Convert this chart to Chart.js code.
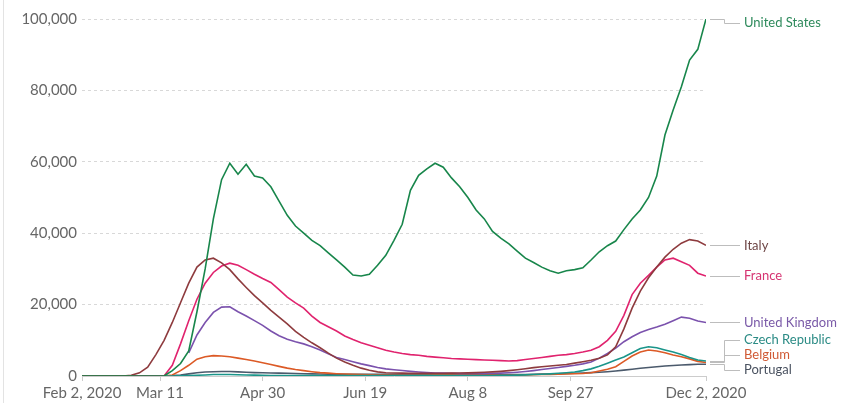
<!DOCTYPE html>
<html><head><meta charset="utf-8">
<script src="https://cdn.jsdelivr.net/npm/chart.js@4"></script>
<style>
html,body{margin:0;padding:0;background:#fff;}
#wrap{position:relative;width:849px;height:403px;}
#edge{position:absolute;left:3px;top:0;width:1px;height:403px;background:#e3e3e3;}
</style>
</head><body>
<div id="wrap"><div id="edge"></div><canvas id="c"></canvas></div>
<script>
// Days since Feb 2, 2020
const days = [
  0,4,8,12,16,20,24,28,32,36,
  40,44,48,52,56,60,64,68,72,76,
  80,84,88,92,96,100,104,108,112,116,
  120,124,128,132,136,140,144,148,152,156,
  160,164,168,172,176,180,184,188,192,196,
  200,204,208,212,216,220,224,228,232,236,
  240,244,248,252,256,260,264,268,272,276,
  280,284,288,292,296,300,304
];
const xTickDays = [0,38,88,138,188,238,304];
const xTickLabels = ['Feb 2, 2020','Mar 11','Apr 30','Jun 19','Aug 8','Sep 27','Dec 2, 2020'];
const yTicks = [0,20000,40000,60000,80000,100000];

const seriesNames = ['United States','Italy','France','United Kingdom','Czech Republic','Belgium','Portugal'];

const unitedStates = [
  0,0,0,0,0,0,0,0,0,0,
  0,1500,3500,7000,18000,30000,44000,55000,59600,56500,
  59300,56000,55500,53000,49000,45000,42000,40000,38000,36500,
  34500,32500,30500,28300,28000,28500,31000,33800,38000,42500,
  52000,56200,58000,59600,58500,55500,53000,50000,46500,44000,
  40500,38600,37000,35000,33000,31800,30500,29500,28800,29500,
  29800,30300,32500,34800,36500,37800,41000,44000,46500,50000,
  56000,67500,74500,81000,88500,91500,100000
];
const italy = [
  0,0,0,0,0,0,200,900,2500,6000,
  10000,15000,20500,26000,30500,32500,33000,31700,29800,27200,
  24800,22500,20500,18400,16500,14600,12500,10800,9300,7900,
  6400,5000,3900,3000,2200,1600,1150,900,850,800,
  780,770,760,760,780,800,830,880,950,1050,
  1150,1300,1500,1750,2050,2350,2600,2800,3000,3200,
  3600,4000,4400,5000,5900,8200,13200,19000,23800,27500,
  30500,33300,35500,37200,38200,37800,36600
];
const france = [
  0,0,0,0,0,0,0,0,0,0,
  0,3000,9000,15500,21500,26000,29000,30800,31600,31000,
  29800,28500,27300,26200,24200,22100,20500,19000,16800,15000,
  13800,12600,11200,10200,9300,8600,7900,7200,6700,6300,
  6000,5800,5500,5300,5100,4900,4800,4700,4600,4500,
  4400,4300,4200,4300,4600,4900,5200,5500,5800,6000,
  6300,6700,7200,8200,10000,12500,17000,22800,26000,28200,
  30500,32500,33000,32000,31000,28800,28000
];
const unitedKingdom = [
  null,null,null,null,null,null,null,null,null,null,
  null,null,null,6500,11500,15000,17800,19300,19400,18000,
  16800,15500,14200,12600,11300,10300,9600,9000,8200,7300,
  6200,5200,4600,4000,3400,2900,2400,2000,1750,1550,
  1300,1100,950,850,800,750,700,700,700,720,
  750,800,900,1050,1250,1500,1800,2100,2400,2700,
  3000,3400,3900,5000,6300,7800,9600,11000,12200,13000,
  13700,14500,15500,16500,16200,15400,15000
];
const czechRepublic = [
  0,0,0,0,0,0,0,0,0,0,
  0,0,50,100,200,300,400,400,400,350,
  300,250,200,150,120,100,100,100,100,100,
  100,100,100,100,100,100,100,100,110,110,
  110,110,120,120,120,120,130,130,140,150,
  150,170,200,250,320,400,500,600,750,900,
  1100,1500,2000,2700,3600,4500,5300,6500,7700,8200,
  7900,7300,6700,6000,5200,4500,4200
];
const belgium = [
  0,0,0,0,0,0,0,0,0,0,
  0,300,1500,3000,4700,5400,5700,5600,5400,5000,
  4600,4200,3700,3200,2700,2200,1800,1500,1200,950,
  800,650,550,450,400,320,280,250,220,200,
  200,210,230,250,270,290,300,300,290,270,
  250,230,230,250,300,350,400,450,500,600,
  650,700,900,1400,1900,2600,4100,5600,6700,7300,
  7000,6500,5900,5400,4800,4100,3800
];
const portugal = [
  0,0,0,0,0,0,0,0,0,0,
  0,100,300,600,900,1100,1200,1250,1250,1150,
  1050,950,900,850,800,750,700,650,600,550,
  500,480,470,460,450,450,470,490,480,470,
  450,420,400,380,370,350,340,330,330,340,
  350,360,380,410,440,480,520,580,650,700,
  770,850,950,1050,1200,1400,1650,1900,2150,2400,
  2600,2800,2950,3100,3200,3300,3300
];

const seriesValues = [unitedStates, italy, france, unitedKingdom, czechRepublic, belgium, portugal];
const lineColors = ['#18864b','#8e3b3e','#e0236e','#7b52ad','#1a958a','#dc5a26','#4b5a6c'];
const labelColors = ['#2e8a5c','#6e4646','#d63472','#7a5aa8','#2b8b85','#d05a35','#4a5260'];

const labelPlugin = {
  id: 'endLabels',
  afterDatasetsDraw(chart) {
    const ctx = chart.ctx, area = chart.chartArea, ys = chart.scales.y;
    const items = chart.data.datasets.map((d, i) => {
      const last = d.data[d.data.length - 1].y;
      const yd = ys.getPixelForValue(last);
      return { i, yd, y: yd };
    });
    items.sort((a, b) => a.yd - b.yd);
    const gap = 15, minY = area.top + 4, maxY = area.bottom - 6;
    function place(g) {
      const n = g.items.length;
      let start = g.center - (n - 1) * gap / 2;
      start = Math.max(minY, Math.min(start, maxY - (n - 1) * gap));
      g.start = start;
    }
    let groups = items.map(it => ({ items: [it], center: it.yd }));
    groups.forEach(place);
    let changed = true;
    while (changed) {
      changed = false;
      for (let k = 0; k < groups.length - 1; k++) {
        const a = groups[k], b = groups[k + 1];
        const aEnd = a.start + (a.items.length - 1) * gap;
        if (b.start - aEnd < gap) {
          const merged = { items: a.items.concat(b.items) };
          merged.center = merged.items.reduce((s, it) => s + it.yd, 0) / merged.items.length;
          place(merged);
          groups.splice(k, 2, merged);
          changed = true;
          break;
        }
      }
    }
    groups.forEach(g => g.items.forEach((it, j) => { it.y = g.start + j * gap; }));

    ctx.save();
    const x0 = area.right + 4, xe = 724, x1 = 740;
    ctx.strokeStyle = '#bdbdbd';
    ctx.lineWidth = 1;
    items.forEach(it => {
      ctx.beginPath();
      if (Math.abs(it.y - it.yd) < 1) {
        ctx.moveTo(x0, Math.round(it.y) + 0.5);
        ctx.lineTo(x1, Math.round(it.y) + 0.5);
      } else {
        ctx.moveTo(x0, Math.round(it.yd) + 0.5);
        ctx.lineTo(xe + 0.5, Math.round(it.yd) + 0.5);
        ctx.lineTo(xe + 0.5, Math.round(it.y) + 0.5);
        ctx.lineTo(x1, Math.round(it.y) + 0.5);
      }
      ctx.stroke();
      ctx.font = '13px Lato';
      ctx.fillStyle = labelColors[it.i];
      ctx.textBaseline = 'middle';
      ctx.textAlign = 'left';
      ctx.fillText(seriesNames[it.i], 744, it.y);
    });
    ctx.restore();
  }
};

Chart.defaults.font.family = 'Lato';

new Chart(document.getElementById('c'), {
  type: 'line',
  data: {
    datasets: seriesValues.map((vals, i) => ({
      label: seriesNames[i],
      data: vals.map((v, k) => ({ x: days[k], y: v })),
      borderColor: lineColors[i],
      backgroundColor: lineColors[i],
      borderWidth: 1.6,
      pointRadius: 0,
      tension: 0,
      fill: false,
      spanGaps: false
    }))
  },
  options: {
    responsive: true,
    maintainAspectRatio: false,
    animation: false,
    layout: { padding: { top: 19, right: 143, left: 0, bottom: 0 } },
    plugins: { legend: { display: false }, tooltip: { enabled: false } },
    scales: {
      x: {
        type: 'linear',
        min: 0, max: 304,
        afterBuildTicks: s => { s.ticks = xTickDays.map(v => ({ value: v })); },
        afterFit: s => { s.height = 27; },
        ticks: {
          autoSkip: false, maxRotation: 0, padding: 3,
          color: '#666', font: { size: 15 },
          callback: v => { const k = xTickDays.indexOf(v); return k >= 0 ? xTickLabels[k] : ''; }
        },
        grid: { display: true, drawOnChartArea: false, drawTicks: true, tickLength: 5, color: '#cccccc' },
        border: { display: true, color: '#cccccc', width: 1 }
      },
      y: {
        min: 0, max: 100000,
        afterBuildTicks: s => { s.ticks = yTicks.map(v => ({ value: v })); },
        afterFit: s => { s.width = 82; },
        ticks: {
          padding: 5, color: '#666', font: { size: 15 },
          callback: v => v.toLocaleString('en-US')
        },
        grid: {
          drawTicks: false,
          color: c => c.tick && c.tick.value === 0 ? 'rgba(0,0,0,0)' : '#d8d8d8',
          borderDash: [3, 3]
        },
        border: { display: false, dash: [3, 3] }
      }
    }
  },
  plugins: [labelPlugin]
});
</script>
</body></html>
